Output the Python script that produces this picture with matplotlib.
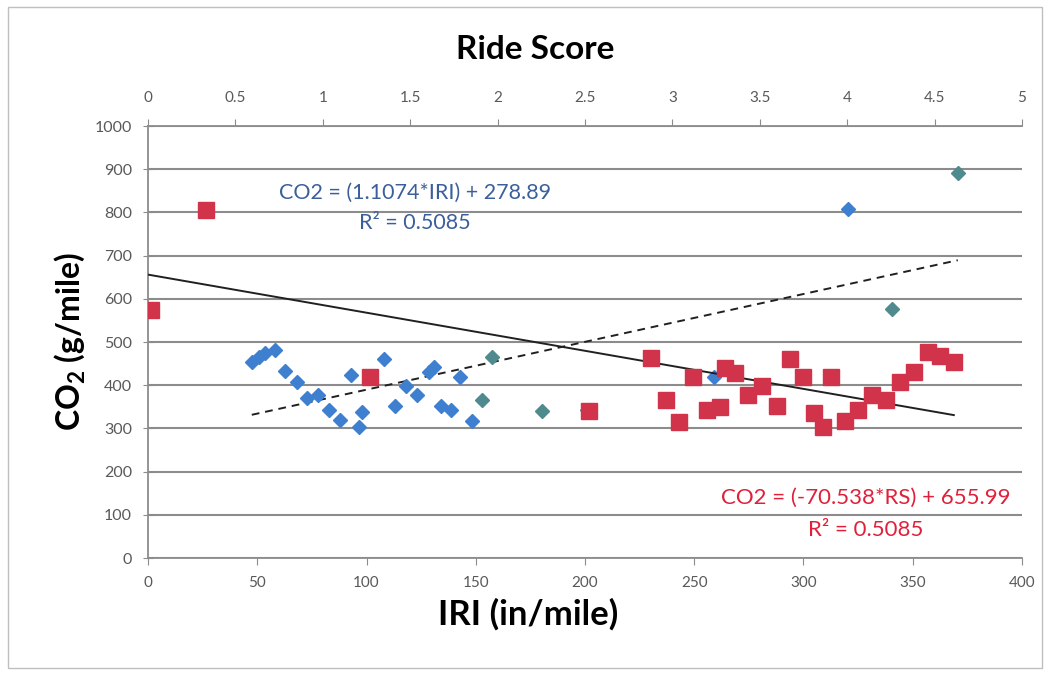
import matplotlib
matplotlib.use("Agg")
import matplotlib.pyplot as plt
from matplotlib.patches import Rectangle

plt.rcParams['font.family'] = ['Lato', 'DejaVu Sans']
plt.rcParams['mathtext.default'] = 'regular'

# blue diamonds, plotted against IRI (bottom axis)
iri = [47.5, 50.6, 53.7, 58.3, 62.8, 68.1, 72.7, 78, 82.7, 88, 96.5, 98, 93, 108,
       113, 118, 123, 128.6, 131, 134, 138.5, 143, 148.5, 259, 320.5]
co2_iri = [454, 465, 474, 481, 434, 408, 370, 377, 343, 319, 303, 339, 424, 460,
           352, 397, 377, 431, 441, 352, 343, 420, 318, 420, 807]

# grey/teal diamonds
iri_b = [153, 157.6, 180.5, 201, 340.6, 370.6]
co2_b = [366, 465, 341, 343, 576, 892]

# red squares, plotted against Ride Score (top axis)
rs = [0.02, 0.33, 1.27, 2.525, 2.88, 2.965, 3.04, 3.12, 3.20, 3.27, 3.30, 3.36, 3.43,
      3.51, 3.60, 3.67, 3.75, 3.81, 3.86, 3.91, 3.99, 4.06, 4.14, 4.22, 4.30, 4.38,
      4.46, 4.53, 4.61]
co2_rs = [574, 806, 420, 340, 462, 366, 315, 420, 343, 350, 439, 429, 377,
          398, 352, 460, 420, 335, 304, 420, 316, 343, 377, 366, 408, 431,
          477, 467, 454]

# trendline coefficients
a_iri, b_iri = 1.1074, 278.89
a_rs, b_rs = -70.538, 655.99

fig = plt.figure(figsize=(10.5, 6.75), dpi=100)
fig.patches.append(Rectangle((8/1050, 7/675), 1034/1050, 661/675, transform=fig.transFigure,
                             fill=False, edgecolor='#bfbfbf', linewidth=1))
ax = fig.add_axes([148/1050, 117/675, 874/1050, 432/675])

ax.set_xlim(0, 400)
ax.set_ylim(0, 1000)
ax.set_xticks(range(0, 401, 50))
ax.set_yticks(range(0, 1001, 100))
ax.grid(axis='y', color='#8c8c8c', linewidth=1.5)
ax.set_axisbelow(True)
for s in ['right', 'top']:
    ax.spines[s].set_visible(False)
for s in ['left', 'bottom']:
    ax.spines[s].set_color('#8c8c8c')
    ax.spines[s].set_linewidth(1.3)
ax.tick_params(axis='y', colors='#8c8c8c', labelcolor='#595959', labelsize=11.5,
               length=7, direction='inout', pad=8)
ax.tick_params(axis='x', colors='#8c8c8c', labelcolor='#595959', labelsize=11,
               length=5, pad=8)

# dashed trend for IRI
xl = [min(iri), max(iri_b)]
ax.plot(xl, [a_iri * v + b_iri for v in xl], ls=(0, (4, 3)), color='#202020', lw=1.4, zorder=3)

ax.plot(iri, co2_iri, 'D', color='#3f7fcf', markersize=7, zorder=4)
ax.plot(iri_b, co2_b, 'D', color='#4f8a8f', markersize=7, zorder=4)

ax.set_xlabel('IRI (in/mile)', fontsize=25, fontweight='bold')
ax.xaxis.set_label_coords(0.435, -0.092)
ax.set_ylabel('CO$_2$ (g/mile)', fontsize=23, fontweight='bold')
ax.yaxis.set_label_coords(-0.07, 0.5)

ax2 = ax.twiny()
ax2.set_xlim(0, 5)
ax2.set_xticks([0, 0.5, 1, 1.5, 2, 2.5, 3, 3.5, 4, 4.5, 5])
ax2.set_xticklabels(['0', '0.5', '1', '1.5', '2', '2.5', '3', '3.5', '4', '4.5', '5'])
for s in ['right', 'left', 'bottom']:
    ax2.spines[s].set_visible(False)
ax2.spines['top'].set_color('#8c8c8c')
ax2.spines['top'].set_linewidth(1.3)
ax2.tick_params(colors='#8c8c8c', labelcolor='#595959', labelsize=11, length=5, pad=10)
ax2.set_xlabel('Ride Score', fontsize=24, fontweight='bold')
ax2.xaxis.set_label_coords(0.443, 1.155)

xr = [0, max(rs)]
ax2.plot(xr, [a_rs * v + b_rs for v in xr], '-', color='#202020', lw=1.4, zorder=3)
ax2.plot(rs, co2_rs, 's', color='#d0334a', markersize=11.5, zorder=4)

ax.text(122, 845, 'CO2 = (1.1074*IRI) + 278.89', color='#3a5f9a', fontsize=15.5, ha='center', va='center')
ax.text(122, 775, 'R² = 0.5085', color='#3a5f9a', fontsize=15.5, ha='center', va='center')
ax.text(328.6, 139, 'CO2 = (-70.538*RS) + 655.99', color='#e0203a', fontsize=16, ha='center', va='center')
ax.text(328.6, 65, 'R² = 0.5085', color='#e0203a', fontsize=16, ha='center', va='center')

fig.savefig('out.png', dpi=100)
